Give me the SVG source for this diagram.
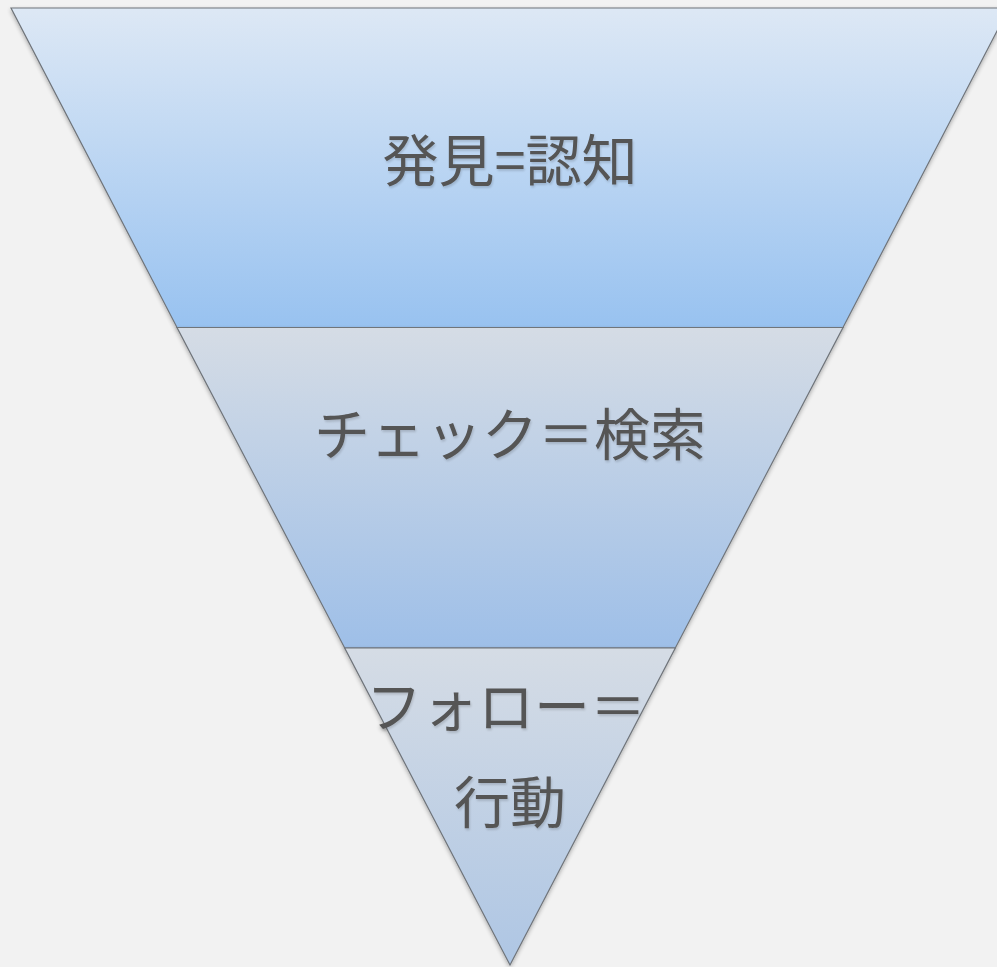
<svg xmlns="http://www.w3.org/2000/svg" width="997" height="967" viewBox="0 0 997 967">
<defs>
<linearGradient id="g1" x1="0" y1="0" x2="0" y2="1">
<stop offset="0" stop-color="#dde8f5"/>
<stop offset="1" stop-color="#98c2f0"/>
</linearGradient>
<linearGradient id="g2" x1="0" y1="0" x2="0" y2="1">
<stop offset="0" stop-color="#d5dce5"/>
<stop offset="1" stop-color="#9ebfe8"/>
</linearGradient>
<linearGradient id="g3" x1="0" y1="0" x2="0" y2="1">
<stop offset="0" stop-color="#d5dce5"/>
<stop offset="1" stop-color="#aec6e4"/>
</linearGradient>
<filter id="sh" x="-5%" y="-5%" width="110%" height="110%">
<feGaussianBlur in="SourceAlpha" stdDeviation="2"/>
<feOffset dx="0" dy="2" result="b"/>
<feComponentTransfer><feFuncA type="linear" slope="0.3"/></feComponentTransfer>
<feMerge><feMergeNode/><feMergeNode in="SourceGraphic"/></feMerge>
</filter>
<filter id="tsh" x="-5%" y="-5%" width="110%" height="120%">
<feGaussianBlur in="SourceAlpha" stdDeviation="1"/>
<feOffset dx="1" dy="1.5"/>
<feComponentTransfer><feFuncA type="linear" slope="0.15"/></feComponentTransfer>
<feMerge><feMergeNode/><feMergeNode in="SourceGraphic"/></feMerge>
</filter>
</defs>
<style>
.seg{stroke:#6f747a;stroke-width:1.2;stroke-linejoin:miter}
.t{font-family:"Noto Sans CJK JP","Noto Sans",sans-serif;font-size:56px;fill:#555555;text-anchor:middle;filter:url(#tsh)}
</style>
<rect width="997" height="967" fill="#f2f2f2"/>
<g id="level1" filter="url(#sh)">
<polygon class="seg" points="11,8 1009,8 843,327.5 177,327.5" fill="url(#g1)"/>
<text class="t" x="510" y="181">発見=認知</text>
</g>
<g id="level2" filter="url(#sh)">
<polygon class="seg" points="177,327.5 843,327.5 675.3,648 344.7,648" fill="url(#g2)"/>
<text class="t" x="510" y="455">チェック＝検索</text>
</g>
<g id="level3" filter="url(#sh)">
<polygon class="seg" points="344.7,648 675.3,648 510,965" fill="url(#g3)"/>
<text class="t" x="506" y="727">フォロー＝</text>
<text class="t" x="510" y="823">行動</text>
</g>
<g id="connectors"/>
</svg>
